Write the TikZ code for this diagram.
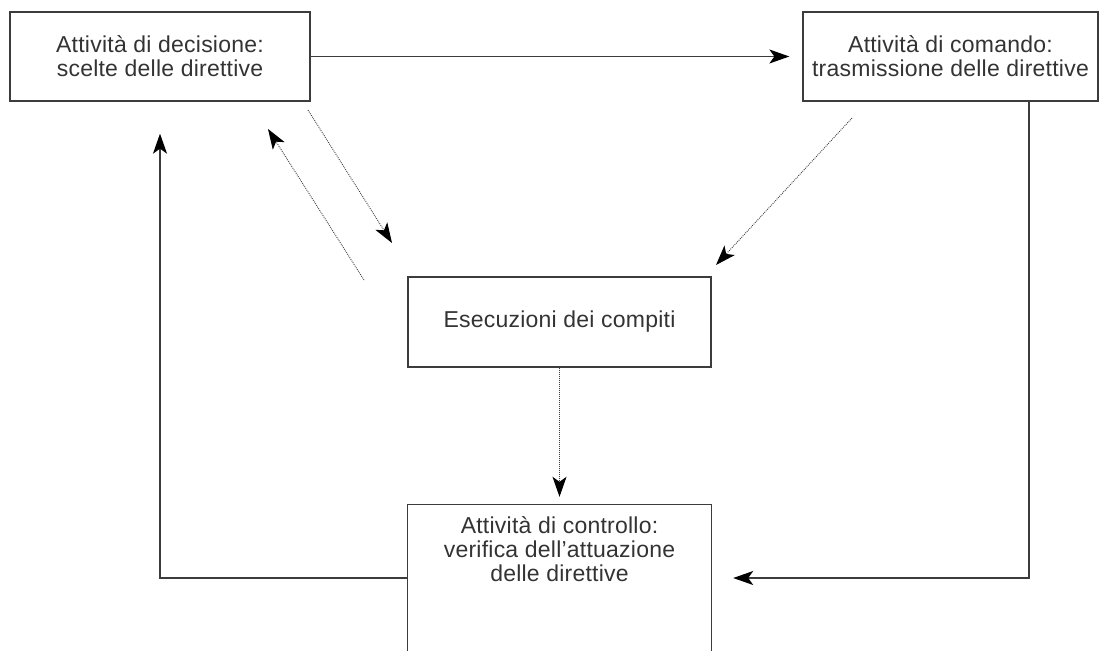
\documentclass[tikz,border=0pt]{standalone}
\usepackage{fontspec}
\setmainfont{Liberation Sans}[LetterSpace=1]
\usetikzlibrary{arrows.meta}
\definecolor{ln}{HTML}{3C3C3C}
\definecolor{tx}{HTML}{333333}
\begin{document}
\begin{tikzpicture}[x=1pt,y=-1pt,
  box/.style={draw=ln, line width=1.3pt, inner sep=0pt, align=center,
    text=tx, font=\fontsize{23}{24}\selectfont},
  txt/.style={inner sep=0pt, align=center, text=tx, font=\fontsize{23}{24}\selectfont},
  solid arrow/.style={draw=ln, line width=1.3pt, -{Stealth[length=20pt,width=14pt,inset=5pt,black]}},
  dot arrow/.style={draw=ln, line width=0.9pt, dash pattern=on 0.9pt off 1.1pt,
    -{Stealth[length=20pt,width=14pt,inset=5pt,black,sep=0pt]}},
  plain/.style={draw=ln, line width=1.3pt}]
\useasboundingbox (0,0) rectangle (1099,651);
\node[box, minimum width=300pt, minimum height=89pt] (b1) at (160,56.5)
  {Attività di decisione:\\scelte delle direttive};
\node[box, minimum width=295pt, minimum height=89pt] (b2) at (950.5,56.5)
  {Attività di comando:\\trasmissione delle direttive};
\node[box, minimum width=303pt, minimum height=90pt] (b3) at (559.5,322)
  {Esecuzioni dei compiti};
\node[minimum width=303pt, minimum height=146pt, inner sep=0pt] (b4) at (559.5,578) {};
\draw[plain] (b4.south west) -- (b4.north west) -- (b4.north east) -- (b4.south east);
\node[txt] (t4) at (559.5,549)
  {Attività di controllo:\\verifica dell’attuazione\\delle direttive};
% solid connectors
\draw[solid arrow, shorten >=13pt] (b1.east) -- (b2.west);
\coordinate (r) at (1029,578);
\coordinate (l) at (160,578);
\draw[solid arrow, shorten >=22pt] (b2.south -| r) -- (r) -- (b4.east);
\draw[solid arrow, shorten >=32pt] (b4.west) -- (l) -- (l |- b1.south);
% dotted connectors
\coordinate (d1s) at (308,110); \coordinate (d1e) at (392,243);
\coordinate (d2s) at (364,280); \coordinate (d2e) at (268,129);
\coordinate (d3s) at (852,118); \coordinate (d3e) at (716,265);
\draw[dot arrow] (d1s) -- (d1e);
\draw[dot arrow] (d2s) -- (d2e);
\draw[dot arrow] (d3s) -- (d3e);
\draw[dot arrow, shorten >=8pt] (b3.south) -- (b4.north);
\end{tikzpicture}
\end{document}
